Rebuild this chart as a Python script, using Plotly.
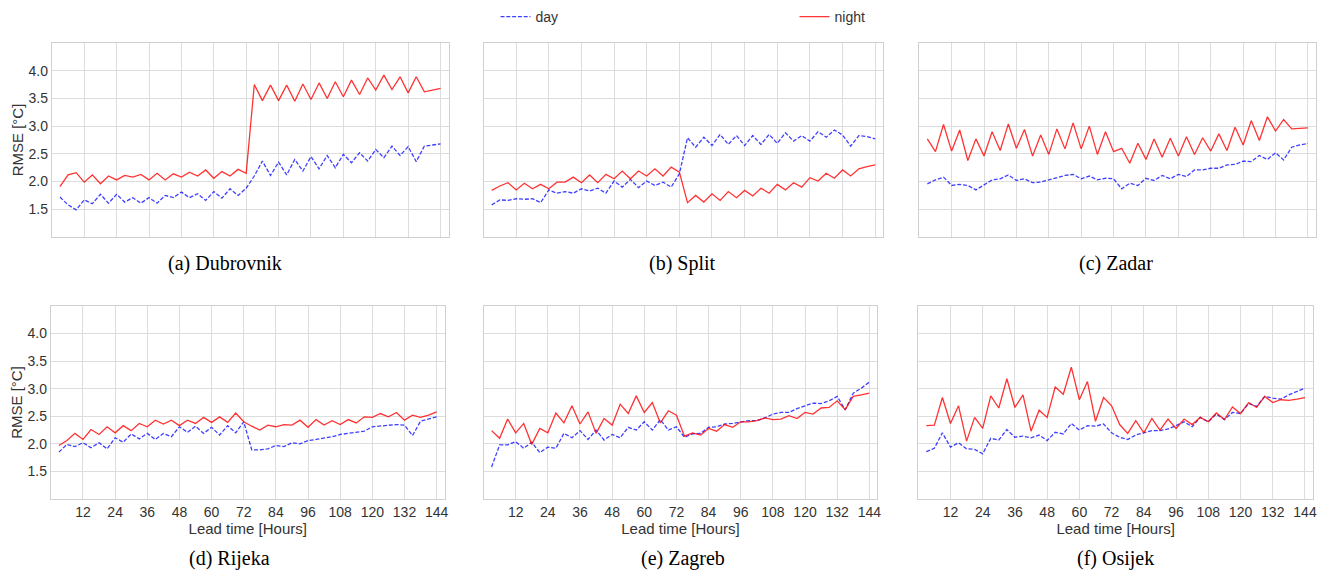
import plotly.graph_objects as go

# Lead time in hours (3-hourly steps up to 6 days)
lead_time = list(range(3, 145, 3))

# RMSE [°C] per station, for day and night regimes
dubrovnik_day = [1.72, 1.58, 1.49, 1.67, 1.60, 1.77, 1.61, 1.77, 1.63, 1.71, 1.61, 1.71,
                 1.61, 1.75, 1.71, 1.81, 1.71, 1.78, 1.66, 1.82, 1.70, 1.87, 1.75, 1.88,
                 2.10, 2.37, 2.11, 2.35, 2.12, 2.40, 2.19, 2.45, 2.23, 2.47, 2.25, 2.49,
                 2.34, 2.52, 2.37, 2.58, 2.43, 2.64, 2.47, 2.63, 2.36, 2.64, 2.66, 2.68]
dubrovnik_night = [1.91, 2.12, 2.16, 1.99, 2.12, 1.96, 2.10, 2.03, 2.11, 2.08, 2.13, 2.03,
                   2.15, 2.03, 2.14, 2.08, 2.17, 2.10, 2.21, 2.06, 2.18, 2.10, 2.22, 2.15,
                   3.75, 3.46, 3.74, 3.46, 3.74, 3.45, 3.76, 3.48, 3.78, 3.50, 3.80, 3.53,
                   3.83, 3.57, 3.87, 3.65, 3.92, 3.66, 3.89, 3.60, 3.89, 3.62, 3.65, 3.68]

split_day = [1.58, 1.67, 1.66, 1.69, 1.68, 1.69, 1.62, 1.85, 1.79, 1.82, 1.79, 1.87,
             1.83, 1.88, 1.79, 2.01, 1.90, 2.04, 1.89, 2.01, 1.93, 1.99, 1.90, 2.14,
             2.79, 2.62, 2.80, 2.65, 2.85, 2.67, 2.83, 2.65, 2.83, 2.67, 2.85, 2.69,
             2.88, 2.73, 2.83, 2.73, 2.90, 2.80, 2.93, 2.84, 2.64, 2.83, 2.81, 2.77]
split_night = [1.84, 1.92, 1.98, 1.85, 1.97, 1.87, 1.95, 1.87, 1.99, 1.99, 2.08, 1.98,
               2.12, 1.98, 2.13, 2.05, 2.19, 2.05, 2.19, 2.10, 2.23, 2.10, 2.26, 2.17,
               1.62, 1.75, 1.63, 1.78, 1.66, 1.82, 1.71, 1.84, 1.74, 1.88, 1.79, 1.95,
               1.85, 1.98, 1.90, 2.07, 2.01, 2.15, 2.06, 2.21, 2.10, 2.23, 2.27, 2.30]

zadar_day = [1.96, 2.03, 2.08, 1.93, 1.95, 1.93, 1.85, 1.94, 2.03, 2.05, 2.12, 2.02,
             2.05, 1.98, 1.99, 2.03, 2.07, 2.11, 2.13, 2.05, 2.10, 2.03, 2.06, 2.05,
             1.87, 1.97, 1.93, 2.06, 2.02, 2.11, 2.05, 2.13, 2.09, 2.21, 2.21, 2.24,
             2.24, 2.30, 2.31, 2.37, 2.36, 2.47, 2.40, 2.52, 2.39, 2.62, 2.66, 2.69]
zadar_night = [2.77, 2.54, 3.03, 2.55, 2.93, 2.38, 2.77, 2.46, 2.90, 2.56, 3.04, 2.60,
               2.94, 2.46, 2.84, 2.49, 2.95, 2.59, 3.06, 2.59, 3.00, 2.49, 2.90, 2.54,
               2.60, 2.33, 2.69, 2.40, 2.77, 2.44, 2.78, 2.46, 2.81, 2.49, 2.79, 2.55,
               2.86, 2.56, 2.98, 2.66, 3.10, 2.74, 3.17, 2.91, 3.12, 2.95, 2.96, 2.97]

rijeka_day = [1.85, 1.99, 1.95, 2.02, 1.93, 2.02, 1.91, 2.11, 2.03, 2.18, 2.09, 2.19,
              2.08, 2.19, 2.13, 2.31, 2.21, 2.32, 2.19, 2.30, 2.16, 2.33, 2.20, 2.40,
              1.89, 1.89, 1.91, 1.97, 1.95, 2.02, 2.00, 2.06, 2.08, 2.10, 2.13, 2.17,
              2.19, 2.20, 2.23, 2.31, 2.32, 2.34, 2.35, 2.34, 2.15, 2.41, 2.45, 2.49]
rijeka_night = [1.97, 2.06, 2.19, 2.08, 2.26, 2.17, 2.31, 2.20, 2.33, 2.24, 2.37, 2.31,
                2.43, 2.36, 2.43, 2.33, 2.43, 2.37, 2.48, 2.39, 2.49, 2.39, 2.56, 2.40,
                2.32, 2.25, 2.34, 2.31, 2.35, 2.34, 2.43, 2.30, 2.44, 2.34, 2.42, 2.35,
                2.44, 2.38, 2.49, 2.48, 2.55, 2.49, 2.57, 2.43, 2.52, 2.48, 2.52, 2.58]

zagreb_day = [1.58, 1.98, 1.98, 2.04, 1.92, 2.03, 1.84, 1.94, 1.92, 2.19, 2.11, 2.24,
              2.08, 2.25, 2.07, 2.17, 2.11, 2.30, 2.25, 2.40, 2.25, 2.44, 2.25, 2.31,
              2.12, 2.18, 2.19, 2.30, 2.31, 2.36, 2.37, 2.40, 2.42, 2.42, 2.47, 2.54,
              2.57, 2.57, 2.64, 2.69, 2.74, 2.73, 2.78, 2.86, 2.62, 2.92, 3.01, 3.12]
zagreb_night = [2.24, 2.10, 2.45, 2.20, 2.37, 1.99, 2.28, 2.20, 2.56, 2.38, 2.69, 2.36,
                2.58, 2.19, 2.46, 2.34, 2.72, 2.55, 2.87, 2.57, 2.75, 2.38, 2.60, 2.52,
                2.14, 2.20, 2.16, 2.28, 2.23, 2.35, 2.30, 2.40, 2.40, 2.42, 2.47, 2.44,
                2.45, 2.51, 2.46, 2.57, 2.54, 2.65, 2.66, 2.78, 2.62, 2.86, 2.89, 2.92]

osijek_day = [1.86, 1.92, 2.20, 1.94, 2.02, 1.91, 1.90, 1.82, 2.10, 2.07, 2.26, 2.12,
              2.14, 2.11, 2.16, 2.06, 2.21, 2.18, 2.37, 2.25, 2.33, 2.32, 2.36, 2.20,
              2.12, 2.08, 2.16, 2.20, 2.24, 2.24, 2.27, 2.33, 2.40, 2.31, 2.48, 2.40,
              2.54, 2.44, 2.57, 2.55, 2.73, 2.68, 2.86, 2.83, 2.81, 2.89, 2.95, 3.01]
osijek_night = [2.33, 2.34, 2.84, 2.37, 2.69, 2.05, 2.48, 2.28, 2.87, 2.65, 3.18, 2.66,
                2.89, 2.23, 2.61, 2.48, 3.03, 2.90, 3.39, 2.80, 3.13, 2.41, 2.84, 2.69,
                2.35, 2.19, 2.42, 2.20, 2.46, 2.25, 2.45, 2.28, 2.45, 2.35, 2.48, 2.40,
                2.56, 2.44, 2.67, 2.55, 2.75, 2.66, 2.86, 2.75, 2.80, 2.79, 2.81, 2.84]

captions = ["(a) Dubrovnik", "(b) Split", "(c) Zadar",
            "(d) Rijeka", "(e) Zagreb", "(f) Osijek"]
day_series = [dubrovnik_day, split_day, zadar_day, rijeka_day, zagreb_day, osijek_day]
night_series = [dubrovnik_night, split_night, zadar_night,
                rijeka_night, zagreb_night, osijek_night]

x_ticks = list(range(12, 145, 12))
y_ticks = [1.5, 2.0, 2.5, 3.0, 3.5, 4.0]

W, H = 1331, 572
# panel boxes in pixels: (left, right, top, bottom)
boxes = [(52, 450, 43, 237), (485, 886, 43, 237), (922, 1320, 43, 237),
         (51, 446, 306, 499), (485, 880, 306, 499), (921, 1317, 306, 499)]
caption_pos = [(226, 263), (685, 263), (1119, 263),
               (230, 558), (685, 558), (1119, 558)]

SANS = "Liberation Sans, Arial, sans-serif"
SERIF = "Liberation Serif, Times New Roman, serif"
DAY_COLOR = "rgba(0,0,255,0.75)"
NIGHT_COLOR = "rgba(255,0,0,0.8)"
TEXT_COLOR = "#333333"

fig = go.Figure()
layout = {}
for i in range(6):
    n = i + 1
    ax = "" if n == 1 else str(n)
    fig.add_trace(go.Scatter(
        x=lead_time, y=day_series[i], mode="lines", name="day",
        legendgroup="day", showlegend=(i == 0),
        line=dict(color=DAY_COLOR, width=1.3, dash="4px,1.8px"),
        xaxis="x" + ax, yaxis="y" + ax))
    fig.add_trace(go.Scatter(
        x=lead_time, y=night_series[i], mode="lines", name="night",
        legendgroup="night", showlegend=(i == 0),
        line=dict(color=NIGHT_COLOR, width=1.3),
        xaxis="x" + ax, yaxis="y" + ax))

    l, r, t, b = boxes[i]
    bottom_row = i >= 3
    left_col = i % 3 == 0
    layout["xaxis" + ax] = dict(
        domain=[l / W, r / W], range=[0, 147], anchor="y" + ax,
        tickvals=x_ticks, showticklabels=bottom_row,
        tickfont=dict(family=SANS, size=14, color=TEXT_COLOR),
        title=dict(text="Lead time [Hours]" if bottom_row else "",
                   font=dict(family=SANS, size=15, color=TEXT_COLOR), standoff=0),
        showgrid=True, gridcolor="#dddddd", gridwidth=1, zeroline=False,
        showline=True, linecolor="#d0d0d0", linewidth=1, mirror=True,
        ticks="", fixedrange=True)
    layout["yaxis" + ax] = dict(
        domain=[1 - b / H, 1 - t / H], range=[1.0, 4.5], anchor="x" + ax,
        tickvals=y_ticks, ticktext=[f"{v:.1f}" for v in y_ticks],
        showticklabels=left_col,
        tickfont=dict(family=SANS, size=14, color=TEXT_COLOR),
        title=dict(text="RMSE [°C]" if left_col else "",
                   font=dict(family=SANS, size=15, color=TEXT_COLOR), standoff=1),
        showgrid=True, gridcolor="#dddddd", gridwidth=1, zeroline=False,
        showline=True, linecolor="#d0d0d0", linewidth=1, mirror=True,
        ticks="", fixedrange=True)

annotations = []
for text, (cx, cy) in zip(captions, caption_pos):
    annotations.append(dict(
        text=text, x=cx / W, y=1 - cy / H, xref="paper", yref="paper",
        xanchor="center", yanchor="middle", showarrow=False,
        font=dict(family=SERIF, size=20, color="black")))

fig.update_layout(
    width=W, height=H,
    margin=dict(l=0, r=0, t=0, b=0),
    paper_bgcolor="white", plot_bgcolor="white",
    showlegend=True,
    legend=dict(orientation="h", x=497 / W, y=1 - 1 / H,
                xanchor="left", yanchor="top",
                entrywidth=254, entrywidthmode="pixels",
                font=dict(family=SANS, size=14, color=TEXT_COLOR),
                bgcolor="rgba(0,0,0,0)"),
    annotations=annotations,
    **layout)

fig.write_html("out.html")
